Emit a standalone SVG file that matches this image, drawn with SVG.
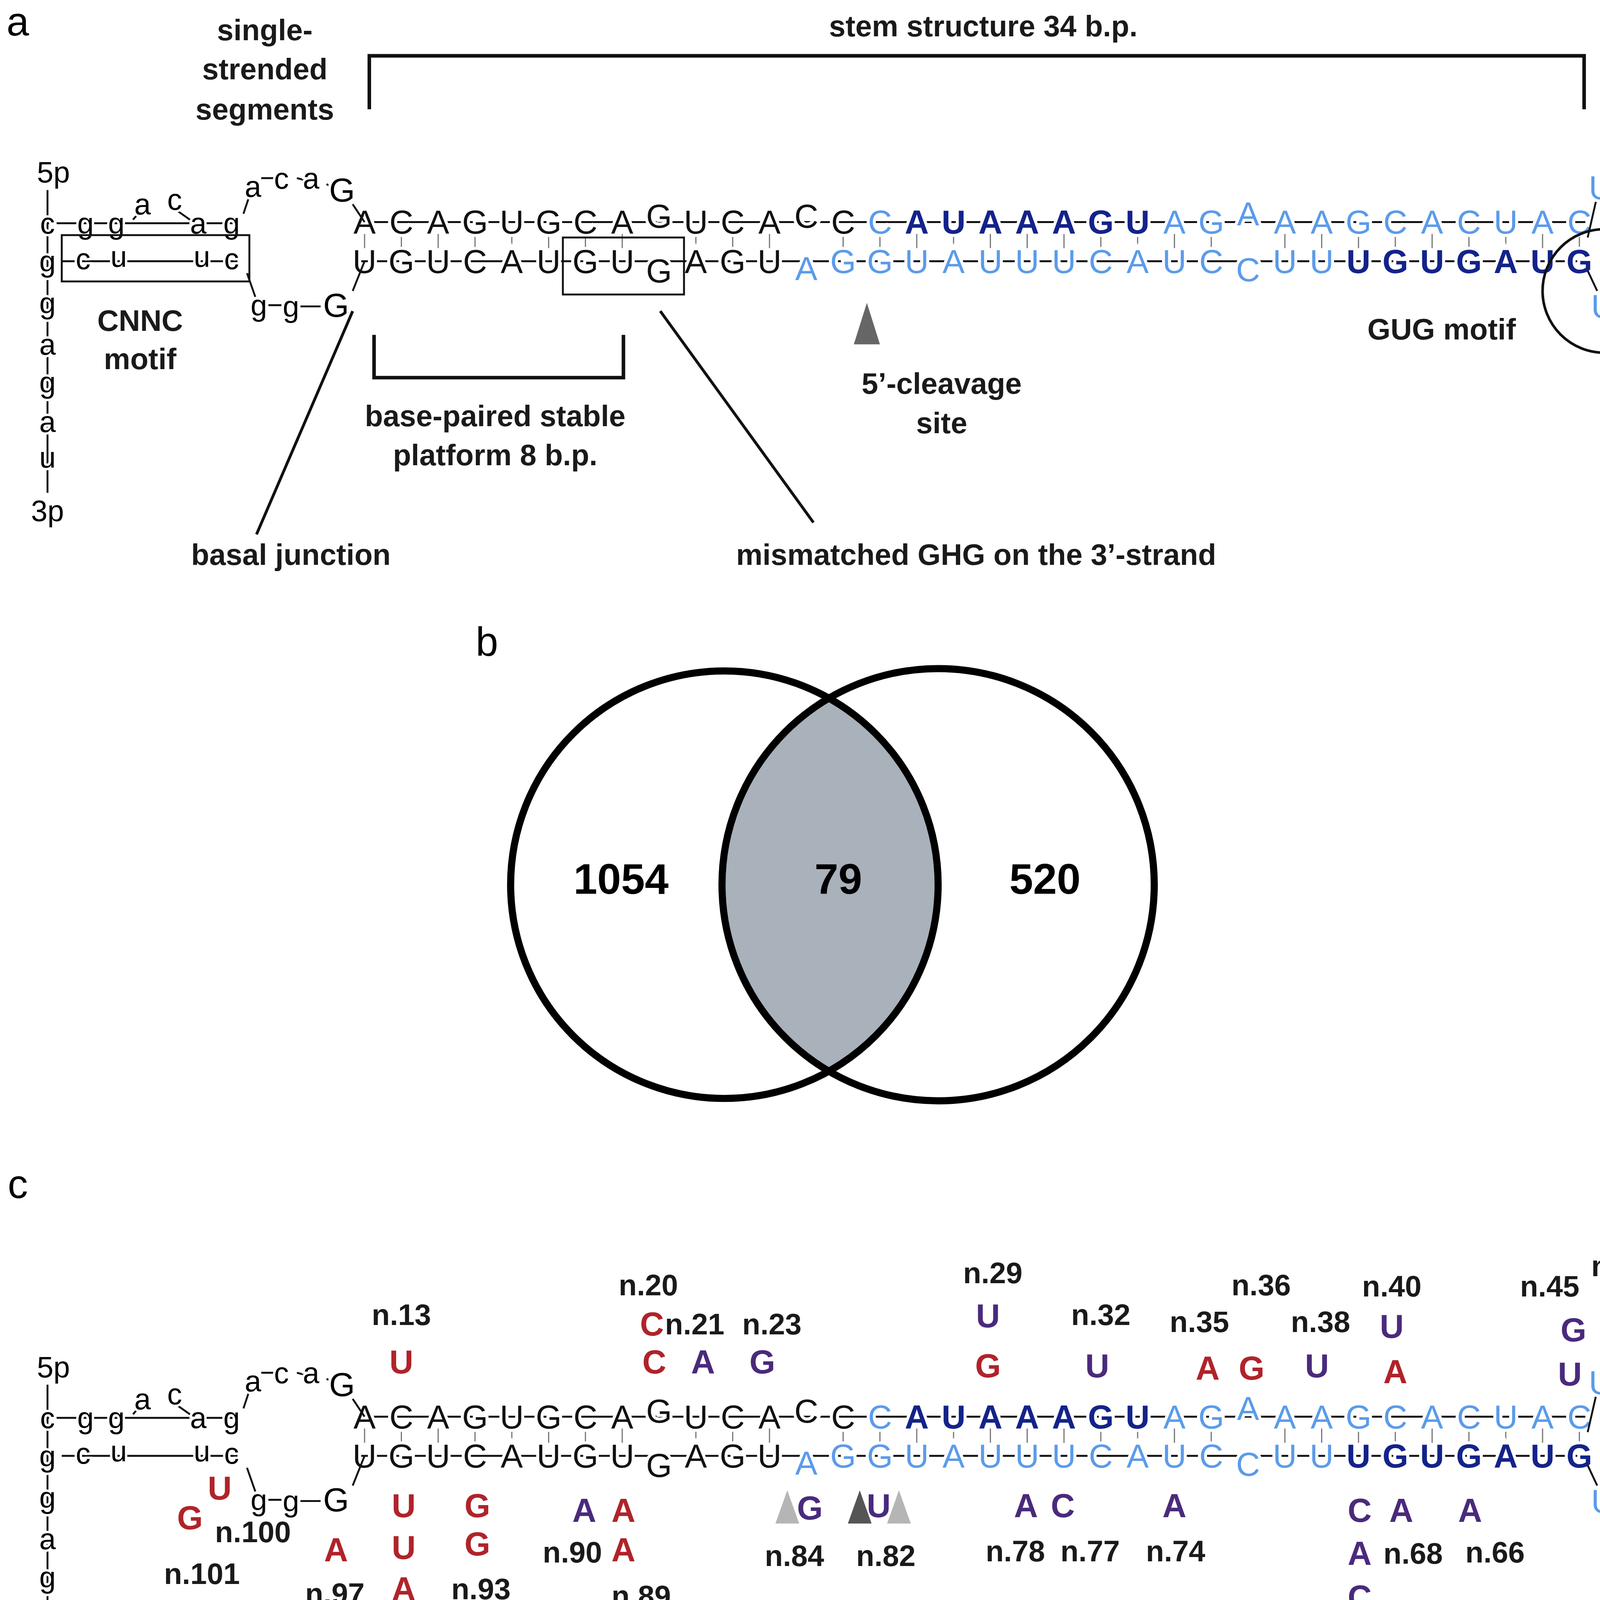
<svg xmlns="http://www.w3.org/2000/svg" width="4724" height="4477" viewBox="0 0 4724 4477">
<style>
.nt{font-family:"Liberation Sans",Arial,sans-serif;font-size:28px;text-anchor:middle;dominant-baseline:central;paint-order:stroke;stroke:#fff;stroke-width:5px}
.sm{font-family:"Liberation Sans",Arial,sans-serif;font-size:25px;text-anchor:middle;dominant-baseline:central;paint-order:stroke;stroke:#fff;stroke-width:4px}
.lb{font-family:"Liberation Sans",Arial,sans-serif;font-size:25px;font-weight:bold;text-anchor:middle;dominant-baseline:central;fill:#1a1a1a}
.pl{font-family:"Liberation Sans",Arial,sans-serif;font-size:34px;text-anchor:middle;dominant-baseline:central}
.num{font-family:"Liberation Sans",Arial,sans-serif;font-size:36px;font-weight:bold;text-anchor:middle;dominant-baseline:central}
.mr{font-family:"Liberation Sans",Arial,sans-serif;font-size:28px;font-weight:bold;text-anchor:middle;dominant-baseline:central;fill:#b0232a}
.mp{font-family:"Liberation Sans",Arial,sans-serif;font-size:28px;font-weight:bold;text-anchor:middle;dominant-baseline:central;fill:#4a2a7c}
.L{fill:#5b9bea}.D{fill:#13238a;font-weight:bold}.K{fill:#111}
.ln{stroke:#111;stroke-width:1.6;fill:none}
.bk{stroke:#111;stroke-width:3;fill:none}
.tk{stroke:#777;stroke-width:1}
</style>
<defs>
<g id="rna">
<line class="ln" x1="300" y1="187" x2="1335" y2="187"/>
<line class="ln" x1="300" y1="220" x2="1335" y2="220"/>
<g class="tk">
<path d="M307 197v12M338 197v12M369 197v12M400 197v12M431 197v12M462 197v12M493 197v12M524 197v12M586 197v12M617 197v12M648 197v12M710 197v12M741 197v12M772 197v12M803 197v12M834 197v12M865 197v12M896 197v12M927 197v12M958 197v12M989 197v12M1020 197v12M1082 197v12M1113 197v12M1144 197v12M1175 197v12M1206 197v12M1237 197v12M1268 197v12M1299 197v12M1330 197v12"/>
</g>
<text class="nt"><tspan class="K" x="307 338 369 400 431 462 493 524 555 586 617 648 679 710" y="187 187 187 187 187 187 187 187 182 187 187 187 182 187">ACAGUGCAGUCACC</tspan><tspan class="L" x="741" y="187">C</tspan><tspan class="D" x="772 803 834 865 896 927 958" y="187">AUAAAGU</tspan><tspan class="L" x="989 1020 1051 1082 1113 1144 1175 1206 1237 1268 1299 1330" y="187 187 180 187 187 187 187 187 187 187 187 187">AGAAAGCACUAC</tspan></text>
<text class="nt"><tspan class="K" x="307 338 369 400 431 462 493 524 555 586 617 648" y="220 220 220 220 220 220 220 220 228 220 220 220">UGUCAUGUGAGU</tspan><tspan class="L" x="679 710 741 772 803 834 865 896 927 958 989 1020 1051 1082 1113" y="226 220 220 220 220 220 220 220 220 220 220 220 227 220 220">AGGUAUUUCAUCCUU</tspan><tspan class="D" x="1144 1175 1206 1237 1268 1299 1330" y="220">UGUGAUG</tspan></text>
<!-- left arm -->
<path class="ln" d="M40 160V415M40 188H200M297 172L307 187M297 245L307 220M200 220H52M208 230L215 250M205 180L210 165M112 185L118 178M150 178L160 185M220 150L232 150M250 150L258 152M275 155L283 160M226 257H237M253 258H270"/>
<text class="sm" x="45" y="145">5p</text>
<text class="sm" x="40 72 98" y="188">cgg</text>
<text class="sm" x="120 147" y="172 168">ac</text>
<text class="sm" x="167 195" y="188">ag</text>
<text class="sm" x="213 237 262" y="157 150 150">aca</text>
<text class="nt" x="288" y="160">G</text>
<text class="sm" x="40 70 100 170 195" y="220 218 216 216 218">gcuuc</text>
<text class="sm" x="40 40 40 40 40" y="255 290 322 355 385">gagau</text>
<text class="sm" x="218 245" y="257 258">gg</text>
<text class="nt" x="283" y="257">G</text>
<text class="sm" x="40" y="430">3p</text>
<!-- apical loop -->
<path class="ln" d="M1360 150L1368 145M1385 142L1390 142M1407 145L1418 150M1435 110L1450 95M1470 88L1475 88M1492 97L1505 115M1512 120L1512 128M1500 145L1460 150M1440 160L1432 165M1432 185L1440 200M1460 225L1455 230M1443 248L1438 255M1420 265L1413 268M1395 272L1388 272M1360 265L1365 268M1337 200L1345 165M1337 228L1345 245"/>
<text class="nt"><tspan class="L" x="1348" y="158">U</tspan><tspan class="K" x="1375 1398 1425 1430 1458 1485 1515 1515 1450 1430 1467 1453 1435 1407 1380" y="147 142 147 122 88 85 105 133 150 172 213 240 262 270 273">AACAGCACUGGAGGG</tspan><tspan class="L" x="1350" y="258">U</tspan></text>
</g>
</defs>

<g transform="scale(3.04)">
<g id="panel-a">
<text class="pl" x="15" y="18">a</text>
<use href="#rna"/>
<g id="labels-a">
<text class="lb" x="223" y="25">single-</text>
<text class="lb" x="223" y="58">strended</text>
<text class="lb" x="223" y="92">segments</text>
<text class="lb" x="828" y="22">stem structure 34 b.p.</text>
<path class="bk" d="M311 92V47H1334V92"/>
<rect class="ln" x="52" y="198" width="158" height="39"/>
<text class="lb" x="118" y="270">CNNC</text>
<text class="lb" x="118" y="302">motif</text>
<rect class="ln" x="474" y="200" width="102" height="48"/>
<path class="bk" d="M315 282V318H525V282"/>
<text class="lb" x="417" y="350">base-paired stable</text>
<text class="lb" x="417" y="383">platform 8 b.p.</text>
<path class="ln" d="M297 262L216 450M556 262L685 440" style="stroke-width:2.4"/>
<text class="lb" x="245" y="467">basal junction</text>
<text class="lb" x="822" y="467">mismatched GHG on the 3’-strand</text>
<polygon points="730,255 719,290 741,290" fill="#666"/>
<text class="lb" x="793" y="323">5’-cleavage</text>
<text class="lb" x="793" y="356">site</text>
<text class="lb" x="1214" y="277">GUG motif</text>
<circle class="ln" cx="1351" cy="245" r="52" style="stroke-width:2.2"/>
<text class="lb" x="1470" y="318">apical loop</text>
</g>
</g>

<g id="panel-b">
<text class="pl" x="410" y="540">b</text>
<defs><clipPath id="cl"><circle cx="610" cy="745" r="180"/></clipPath></defs>
<circle cx="790" cy="745" r="182" fill="#a9b1ba" clip-path="url(#cl)"/>
<circle cx="610" cy="745" r="180" fill="none" stroke="#000" stroke-width="6"/>
<circle cx="790" cy="745" r="182" fill="none" stroke="#000" stroke-width="6"/>
<text class="num" x="523" y="740">1054</text>
<text class="num" x="706" y="740">79</text>
<text class="num" x="880" y="740">520</text>
</g>

<g id="panel-c">
<text class="pl" x="15" y="997">c</text>
<g transform="translate(0,1006)">
<use href="#rna"/>
</g>
<g id="mutations">
<text class="lb" x="338" y="1107">n.13</text><text class="mr" x="338" y="1147">U</text>
<text class="lb" x="546" y="1082">n.20</text>
<text class="mr" x="549" y="1115">C</text><text class="lb" x="585" y="1115">n.21</text><text class="lb" x="650" y="1115">n.23</text>
<text class="mr" x="551" y="1147">C</text><text class="mp" x="592" y="1147">A</text><text class="mp" x="642" y="1147">G</text>
<text class="lb" x="836" y="1072">n.29</text><text class="mp" x="832" y="1108">U</text><text class="mr" x="832" y="1150">G</text>
<text class="lb" x="927" y="1107">n.32</text><text class="mp" x="924" y="1150">U</text>
<text class="lb" x="1010" y="1113">n.35</text><text class="lb" x="1062" y="1082">n.36</text>
<text class="mr" x="1017" y="1152">A</text><text class="mr" x="1054" y="1152">G</text>
<text class="lb" x="1112" y="1113">n.38</text><text class="mp" x="1109" y="1150">U</text>
<text class="lb" x="1172" y="1083">n.40</text><text class="mp" x="1172" y="1117">U</text><text class="mr" x="1175" y="1155">A</text>
<text class="lb" x="1305" y="1083">n.45</text><text class="mp" x="1325" y="1120">G</text><text class="mp" x="1322" y="1157">U</text>
<text class="lb" x="1365" y="1066">n.47</text><text class="mp" x="1362" y="1103">U</text>
<text class="lb" x="1440" y="1023">n.51</text><text class="lb" x="1493" y="1023">n.52</text>
<text class="mp" x="1462" y="1055">U</text><text class="mp" x="1493" y="1055">U</text>
<text class="mr" x="160" y="1278">G</text><text class="mr" x="185" y="1253">U</text>
<text class="lb" x="213" y="1290">n.100</text><text class="lb" x="170" y="1325">n.101</text>
<text class="mr" x="283" y="1305">A</text><text class="lb" x="282" y="1342">n.97</text>
<text class="mr" x="340" y="1268">U</text><text class="mr" x="340" y="1303">U</text><text class="mr" x="340" y="1338">A</text>
<text class="mp" x="340" y="1373">A</text><text class="mp" x="340" y="1406">A</text><text class="lb" x="347" y="1443">n.95</text>
<text class="mr" x="402" y="1268">G</text><text class="mr" x="402" y="1300">G</text><text class="lb" x="405" y="1338">n.93</text>
<text class="mp" x="492" y="1272">A</text><text class="mr" x="525" y="1272">A</text>
<text class="lb" x="482" y="1307">n.90</text><text class="mr" x="525" y="1305">A</text><text class="lb" x="540" y="1344">n.89</text>
<polygon points="663,1255 653,1283 673,1283" fill="#b5b5b5"/>
<text class="mp" x="682" y="1270">G</text><text class="lb" x="669" y="1310">n.84</text>
<polygon points="724,1255 714,1283 734,1283" fill="#555"/>
<text class="mp" x="740" y="1268">U</text>
<polygon points="757,1255 747,1283 767,1283" fill="#b5b5b5"/>
<text class="lb" x="746" y="1310">n.82</text>
<text class="mp" x="864" y="1268">A</text><text class="mp" x="895" y="1268">C</text>
<text class="lb" x="855" y="1306">n.78</text><text class="lb" x="918" y="1306">n.77</text>
<text class="mp" x="989" y="1268">A</text><text class="lb" x="990" y="1306">n.74</text>
<text class="mp" x="1145" y="1272">C</text><text class="mp" x="1180" y="1272">A</text>
<text class="mp" x="1145" y="1308">A</text><text class="lb" x="1190" y="1308">n.68</text>
<text class="mp" x="1145" y="1345">C</text><text class="mp" x="1145" y="1383">C</text><text class="mp" x="1145" y="1420">C</text>
<text class="lb" x="1152" y="1462">n.69</text>
<text class="mp" x="1238" y="1272">A</text><text class="lb" x="1259" y="1307">n.66</text>
<text class="mp" x="1408" y="1318">A</text><text class="lb" x="1410" y="1350">n.60</text>
</g>
</g>
</g>
</svg>
